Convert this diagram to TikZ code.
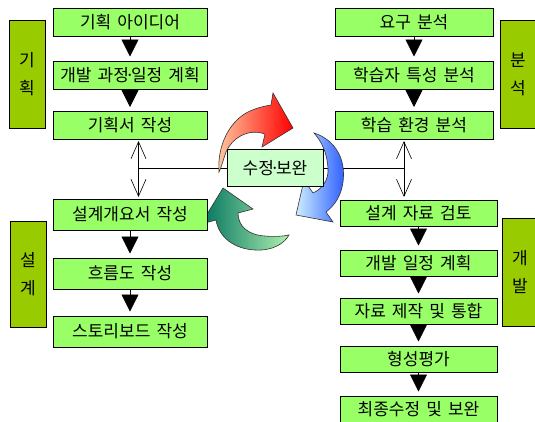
\documentclass[tikz,border=0pt]{standalone}
\usepackage{fontspec}
\setmainfont[WordSpace=1.6]{Noto Sans CJK KR}
\usetikzlibrary{arrows.meta,backgrounds}

\definecolor{stepgreen}{RGB}{153,255,102}
\definecolor{phasegreen}{RGB}{153,204,0}
\definecolor{fixgreen}{RGB}{204,255,204}
\newcommand\middot{\kern-0.22em·\kern-0.22em}

\begin{document}
\begin{tikzpicture}[x=1pt, y=-1pt,
      every node/.style = {font=\fontsize{17}{18}\selectfont, inner sep=0pt},
      stepbox/.style = {draw, line width=1pt, fill=stepgreen, minimum width=154pt, minimum height=28pt},
      phasebox/.style = {draw, line width=1pt, fill=phasegreen, minimum width=36pt, minimum height=108pt,
                         align=center, font=\fontsize{17}{28}\selectfont},
      fixbox/.style = {draw, line width=1pt, fill=fixgreen, minimum width=96pt, minimum height=37pt},
      flow/.style = {-{Triangle[length=17pt,width=17pt]}, line width=0.8pt, shorten >=4pt},
      link/.style = {{Straight Barb[length=17pt,width=15pt]}-{Straight Barb[length=17pt,width=15pt]}, line width=0.6pt},
      cycle/.style = {draw=black!80, line width=0.6pt}]
    \useasboundingbox (0,0) rectangle (535,421);

    % planning
    \node[phasebox] (planlbl) at (27,74) {기\\획};
    \node[stepbox] (plan1) at (130,22) {기획 아이디어};
    \node[stepbox] (plan2) at (130,75) {개발 과정\middot 일정 계획};
    \node[stepbox] (plan3) at (130,125.5) {기획서 작성};
    \draw[flow] (plan1) -- (plan2);
    \draw[flow] (plan2) -- (plan3);

    % analysis
    \node[phasebox] (anallbl) at (518,74) {분\\석};
    \node[stepbox, minimum width=158pt] (anal1) at (414,22) {요구 분석};
    \node[stepbox, minimum width=158pt] (anal2) at (414,75) {학습자 특성 분석};
    \node[stepbox, minimum width=158pt] (anal3) at (414,125.5) {학습 환경 분석};
    \draw[flow] (anal1) -- (anal2);
    \draw[flow] (anal2) -- (anal3);

    % design
    \node[phasebox, minimum height=106pt] (designlbl) at (28,274) {설\\계};
    \node[stepbox, minimum height=31pt] (design1) at (130,214.5) {설계개요서 작성};
    \node[stepbox, minimum height=31pt] (design2) at (130,273.5) {흐름도 작성};
    \node[stepbox, minimum height=31pt] (design3) at (130,331.5) {스토리보드 작성};
    \draw[flow] (design1) -- (design2);
    \draw[flow] (design2) -- (design3);

    % development
    \node[phasebox] (devlbl) at (520,272) {개\\발};
    \node[stepbox, minimum width=157pt, minimum height=26pt] (dev1) at (418.5,213) {설계 자료 검토};
    \node[stepbox, minimum width=157pt, minimum height=26pt] (dev2) at (418.5,263) {개발 일정 계획};
    \node[stepbox, minimum width=157pt, minimum height=26pt] (dev3) at (418.5,311) {자료 제작 및 통합};
    \node[stepbox, minimum width=157pt, minimum height=26pt] (dev4) at (418.5,359) {형성평가};
    \node[stepbox, minimum width=157pt, minimum height=26pt] (dev5) at (418.5,409) {최종수정 및 보완};
    \foreach \a/\b in {dev1/dev2, dev2/dev3, dev3/dev4, dev4/dev5}
      \draw[flow] (\a) -- (\b);

    % revision
    \node[fixbox] (fix) at (275,168) {수정\middot 보완};
    \coordinate (ltop) at (138.5,141);
    \coordinate (lbot) at (138.5,197);
    \coordinate (rtop) at (404,141);
    \coordinate (rbot) at (404,197);

    \begin{scope}[on background layer]
      \draw[link] (ltop) -- (lbot);
      \draw[link] (rtop) -- (rbot);
      \draw[line width=0.6pt] (fix.west) -- (fix.west -| ltop);
      \draw[line width=0.6pt] (fix.east) -- (fix.east -| rtop);
      % cycle arrows
      \path[cycle, left color={rgb,255:red,255;green,200;blue,160}, right color=red]
        (219,172) .. controls (217,145) and (230,120) .. (250,111)
        .. controls (257,108) and (264,106) .. (271,105) -- (273,93) -- (293,128)
        -- (262,147) -- (265,134) .. controls (248,128) and (232,138) .. (226,152)
        .. controls (223,160) and (222,166) .. (219,172) -- cycle;
      \path[cycle, left color={rgb,255:red,205;green,238;blue,255}, right color={rgb,255:red,40;green,90;blue,255}]
        (314,133) .. controls (336,140) and (346,160) .. (343,182)
        .. controls (341,196) and (335,205) .. (326,212) -- (333,222) -- (296,215)
        -- (304,180) -- (313,193) .. controls (322,189) and (329,180) .. (328,168)
        .. controls (327,153) and (322,142) .. (314,133) -- cycle;
      \path[cycle, left color={rgb,255:red,0;green,115;blue,95}, right color={rgb,255:red,175;green,240;blue,175}]
        (201,224) -- (223,188) -- (253,209) -- (238,213)
        .. controls (238,226) and (248,235) .. (265,236)
        .. controls (276,237) and (284,236) .. (289,235)
        .. controls (284,244) and (272,251) .. (255,250)
        .. controls (235,249) and (219,238) .. (216,220) -- cycle;
    \end{scope}
\end{tikzpicture}
\end{document}
